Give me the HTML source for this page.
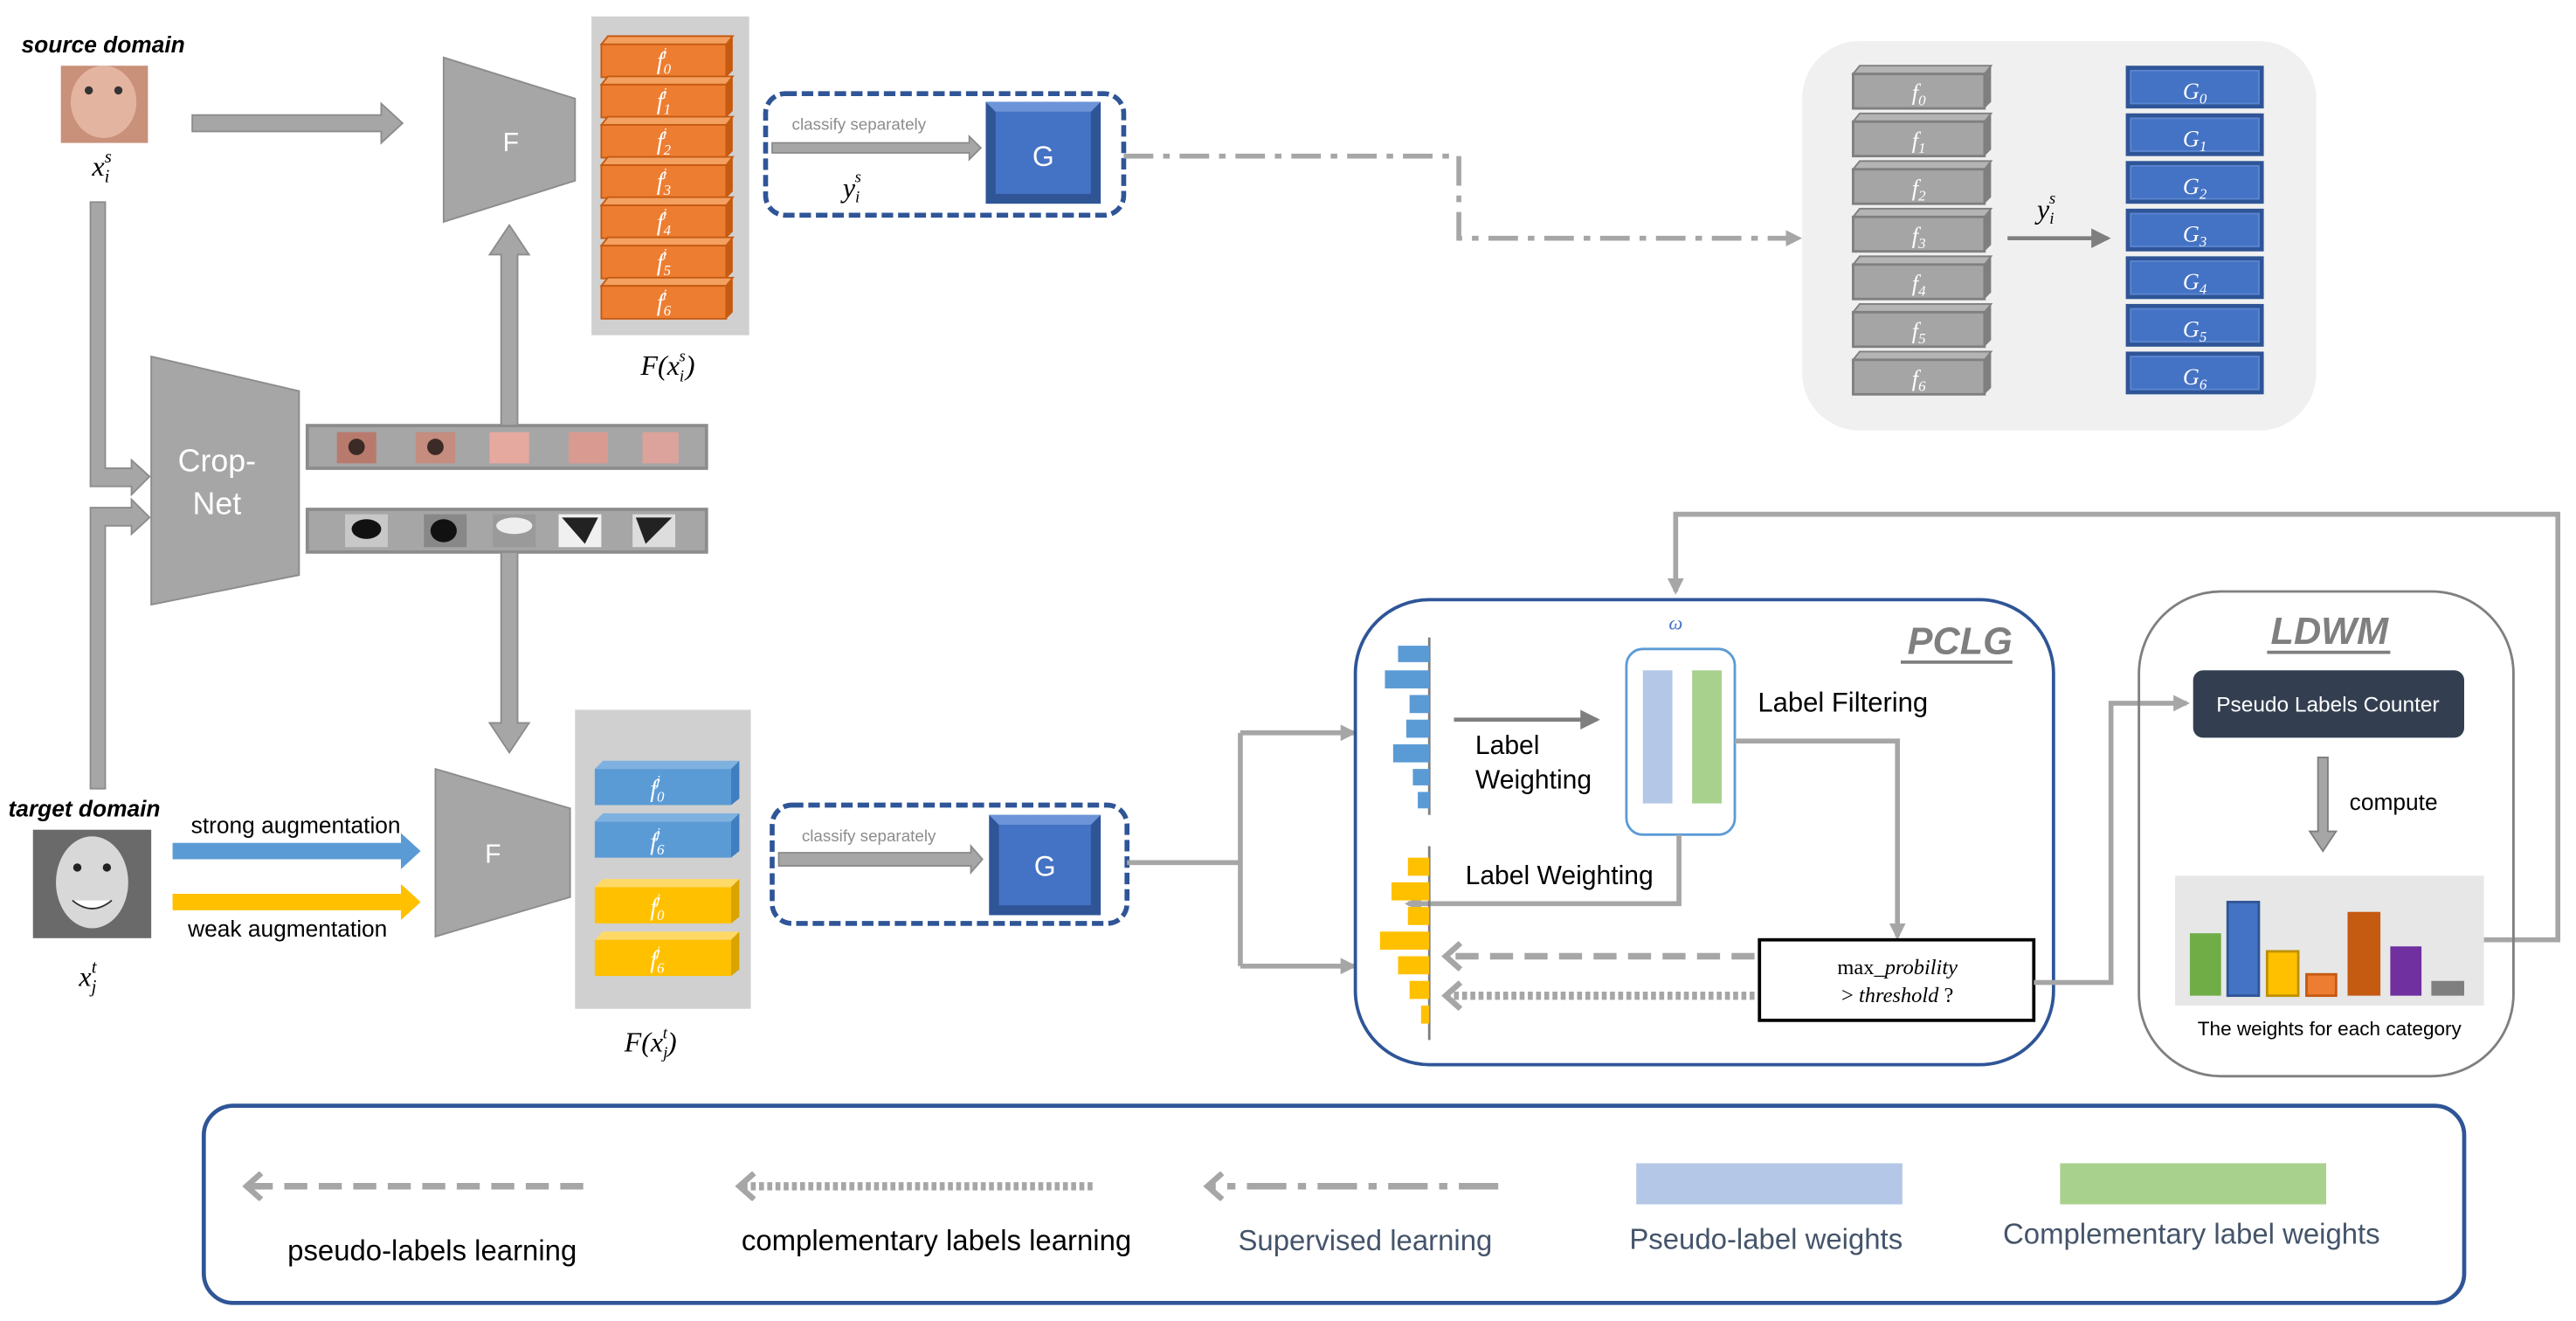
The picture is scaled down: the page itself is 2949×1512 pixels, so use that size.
<!DOCTYPE html>
<html><head><meta charset="utf-8"><style>html,body{margin:0;padding:0;background:#fff}svg{display:block}</style></head><body>
<svg xmlns="http://www.w3.org/2000/svg" width="2949" height="1512" viewBox="0 0 1568 804" font-family="Liberation Sans, sans-serif">
<defs>
<marker id="ah" markerWidth="10" markerHeight="10" refX="8" refY="5" orient="auto" markerUnits="userSpaceOnUse"><path d="M0,0 L10,5 L0,10 z" fill="#a6a6a6"/></marker>
<marker id="ahd" markerWidth="12" markerHeight="12" refX="10" refY="6" orient="auto" markerUnits="userSpaceOnUse"><path d="M0,0 L12,6 L0,12 z" fill="#7f7f7f"/></marker>
<marker id="chev" markerWidth="14" markerHeight="18" refX="11" refY="9" orient="auto" markerUnits="userSpaceOnUse"><path d="M2,1 L11,9 L2,17" fill="none" stroke="#a6a6a6" stroke-width="3.5"/></marker>
</defs>

<!-- source -->
<text x="13" y="32" font-size="14" font-weight="bold" font-style="italic">source domain</text>
<rect x="37" y="40" width="53" height="47" fill="#c9907a"/>
<ellipse cx="63" cy="62" rx="20" ry="22" fill="#e3b4a0"/>
<circle cx="54" cy="55" r="2.5" fill="#333"/><circle cx="72" cy="55" r="2.5" fill="#333"/>
<text x="56" y="107" font-size="17" font-style="italic" font-family="Liberation Serif, serif">x<tspan font-size="11" dy="4">i</tspan><tspan font-size="11" dx="-3" dy="-12">s</tspan></text>
<path d="M117,70 H232 V63 L245,75 L232,87 V80 H117 Z" fill="#a6a6a6" stroke="#8c8c8c"/>

<!-- F top -->
<polygon points="270,35 350,60 350,110 270,135" fill="#a6a6a6" stroke="#8c8c8c"/>
<text x="306" y="92" font-size="16" fill="#fff">F</text>
<rect x="360" y="10" width="96" height="194" fill="#d0d0d0"/>
<g font-family="Liberation Serif, serif" font-style="italic" font-size="15" fill="#fff" text-anchor="middle">
<g id="ob">
<polygon points="366,27 370,22 446,22 442,27" fill="#f4a060" stroke="#c55a11" stroke-width="1"/>
<polygon points="442,27 446,22 446,43 442,47" fill="#c55a11"/>
<rect x="366" y="27" width="76" height="20" fill="#ed7d31" stroke="#c55a11"/>
</g>
<use href="#ob" y="24.5"/><use href="#ob" y="49"/><use href="#ob" y="73.5"/><use href="#ob" y="98"/><use href="#ob" y="122.5"/><use href="#ob" y="147"/>
<text x="404" y="42">f<tspan font-size="9" dy="3">0</tspan><tspan font-size="9" dx="-5" dy="-10">i</tspan></text>
<text x="404" y="66.5">f<tspan font-size="9" dy="3">1</tspan><tspan font-size="9" dx="-5" dy="-10">i</tspan></text>
<text x="404" y="91">f<tspan font-size="9" dy="3">2</tspan><tspan font-size="9" dx="-5" dy="-10">i</tspan></text>
<text x="404" y="115.5">f<tspan font-size="9" dy="3">3</tspan><tspan font-size="9" dx="-5" dy="-10">i</tspan></text>
<text x="404" y="140">f<tspan font-size="9" dy="3">4</tspan><tspan font-size="9" dx="-5" dy="-10">i</tspan></text>
<text x="404" y="164.5">f<tspan font-size="9" dy="3">5</tspan><tspan font-size="9" dx="-5" dy="-10">i</tspan></text>
<text x="404" y="189">f<tspan font-size="9" dy="3">6</tspan><tspan font-size="9" dx="-5" dy="-10">i</tspan></text>
</g>
<text x="390" y="228" font-size="17" font-style="italic" font-family="Liberation Serif, serif">F(x<tspan font-size="10" dy="4">i</tspan><tspan font-size="10" dx="-3" dy="-12">s</tspan><tspan dy="8">)</tspan></text>

<!-- dashed G box top -->
<rect x="466" y="57" width="218" height="74" rx="12" fill="none" stroke="#2f5597" stroke-width="3" stroke-dasharray="7,3"/>
<text x="482" y="79" font-size="10" fill="#8c8c8c">classify separately</text>
<path d="M470,87 H590 V83 L597,90 L590,97 V93 H470 Z" fill="#a6a6a6" stroke="#8c8c8c"/>
<text x="513" y="120" font-size="17" font-style="italic" font-family="Liberation Serif, serif">y<tspan font-size="10" dy="3">i</tspan><tspan font-size="10" dx="-3" dy="-12">s</tspan></text>
<rect x="600" y="62" width="70" height="62" fill="#2f5597"/>
<polygon points="600,62 670,62 664,68 606,68" fill="#6d94d8"/>
<rect x="606" y="68" width="58" height="50" fill="#4472c4"/>
<text x="635" y="101" font-size="17" fill="#fff" text-anchor="middle">G</text>
<path d="M684,95 H888 V145 H1095" fill="none" stroke="#a6a6a6" stroke-width="3" stroke-dasharray="18,6,4,6" marker-end="url(#ah)"/>

<!-- right gray box -->
<rect x="1097" y="25" width="313" height="237" rx="35" fill="#f0f0f0"/>
<g font-family="Liberation Serif, serif" font-style="italic" font-size="14" fill="#fff" text-anchor="middle">
<g id="gb">
<polygon points="1128,45 1132,40 1212,40 1208,45" fill="#b4b4b4" stroke="#7f7f7f"/>
<polygon points="1208,45 1212,40 1212,62 1208,66" fill="#7f7f7f"/>
<rect x="1128" y="45" width="80" height="21" fill="#a5a5a5" stroke="#7f7f7f" stroke-width="1.5"/>
<rect x="1294" y="40" width="84" height="26" fill="#2f5597"/>
<rect x="1297" y="43" width="78" height="20" fill="#4472c4" stroke="#5b85d0"/>
</g>
<use href="#gb" y="29"/><use href="#gb" y="58"/><use href="#gb" y="87"/><use href="#gb" y="116"/><use href="#gb" y="145"/><use href="#gb" y="174"/>
<text x="1168" y="61">f<tspan font-size="9" dy="3">0</tspan></text>
<text x="1168" y="90">f<tspan font-size="9" dy="3">1</tspan></text>
<text x="1168" y="119">f<tspan font-size="9" dy="3">2</tspan></text>
<text x="1168" y="148">f<tspan font-size="9" dy="3">3</tspan></text>
<text x="1168" y="177">f<tspan font-size="9" dy="3">4</tspan></text>
<text x="1168" y="206">f<tspan font-size="9" dy="3">5</tspan></text>
<text x="1168" y="235">f<tspan font-size="9" dy="3">6</tspan></text>
<text x="1336" y="60">G<tspan font-size="9" dy="3">0</tspan></text>
<text x="1336" y="89">G<tspan font-size="9" dy="3">1</tspan></text>
<text x="1336" y="118">G<tspan font-size="9" dy="3">2</tspan></text>
<text x="1336" y="147">G<tspan font-size="9" dy="3">3</tspan></text>
<text x="1336" y="176">G<tspan font-size="9" dy="3">4</tspan></text>
<text x="1336" y="205">G<tspan font-size="9" dy="3">5</tspan></text>
<text x="1336" y="234">G<tspan font-size="9" dy="3">6</tspan></text>
</g>
<line x1="1222" y1="145" x2="1283" y2="145" stroke="#7f7f7f" stroke-width="2.5" marker-end="url(#ahd)"/>
<text x="1240" y="133" font-size="17" font-style="italic" font-family="Liberation Serif, serif">y<tspan font-size="10" dy="3">i</tspan><tspan font-size="10" dx="-3" dy="-12">s</tspan></text>

<!-- left vertical paths into Crop-Net -->
<path d="M55,123 H64 V285 H80 V280 L91,290 L80,301 V296 H55 Z" fill="#a6a6a6" stroke="#8c8c8c"/>
<path d="M55,480 H64 V320 H80 V325 L91,315 L80,304 V309 H55 Z" fill="#a6a6a6" stroke="#8c8c8c"/>
<polygon points="92,217 182,238 182,350 92,368" fill="#a6a6a6" stroke="#8c8c8c"/>
<text x="132" y="287" font-size="19" fill="#fff" text-anchor="middle">Crop-</text>
<text x="132" y="313" font-size="19" fill="#fff" text-anchor="middle">Net</text>

<!-- strips -->
<rect x="187" y="259" width="243" height="26" fill="#a6a6a6" stroke="#8c8c8c" stroke-width="2"/>
<rect x="205" y="263" width="24" height="19" fill="#b97a6e"/><circle cx="217" cy="272" r="5" fill="#3b2a25"/>
<rect x="253" y="263" width="24" height="19" fill="#c58c80"/><circle cx="265" cy="272" r="5" fill="#3b2a25"/>
<rect x="298" y="263" width="24" height="19" fill="#e6a9a0"/>
<rect x="346" y="263" width="24" height="19" fill="#d99a92"/>
<rect x="391" y="263" width="22" height="19" fill="#dba39b"/>
<rect x="187" y="310" width="243" height="26" fill="#a6a6a6" stroke="#8c8c8c" stroke-width="2"/>
<rect x="210" y="313" width="26" height="20" fill="#c8c8c8"/><ellipse cx="223" cy="322" rx="9" ry="6" fill="#111"/>
<rect x="258" y="313" width="26" height="20" fill="#888"/><ellipse cx="270" cy="323" rx="8" ry="7" fill="#111"/>
<rect x="300" y="313" width="26" height="20" fill="#9a9a9a"/><ellipse cx="313" cy="320" rx="11" ry="5" fill="#eee"/>
<rect x="340" y="313" width="26" height="20" fill="#f0f0f0"/><polygon points="342,315 364,315 356,331" fill="#222"/>
<rect x="385" y="313" width="26" height="20" fill="#ddd"/><polygon points="387,315 409,315 393,331" fill="#222"/>

<!-- vertical double arrow -->
<path d="M305,259 V155 H298 L310,137 L322,155 H315 V259 Z" fill="#a6a6a6" stroke="#8c8c8c"/>
<path d="M305,336 V440 H298 L310,458 L322,440 H315 V336 Z" fill="#a6a6a6" stroke="#8c8c8c"/>

<!-- target -->
<text x="5" y="497" font-size="14" font-weight="bold" font-style="italic">target domain</text>
<rect x="20" y="505" width="72" height="66" fill="#6a6a6a"/>
<ellipse cx="56" cy="537" rx="22" ry="28" fill="#d8d8d8"/>
<circle cx="47" cy="528" r="2.5" fill="#222"/><circle cx="65" cy="528" r="2.5" fill="#222"/>
<path d="M44,548 Q56,558 68,548" fill="#fff" stroke="#333"/>
<text x="48" y="600" font-size="17" font-style="italic" font-family="Liberation Serif, serif">x<tspan font-size="11" dy="4">j</tspan><tspan font-size="11" dx="-3" dy="-12">t</tspan></text>
<text x="180" y="507" font-size="14" text-anchor="middle">strong augmentation</text>
<path d="M105,513 H244 V507 L256,518 L244,529 V523 H105 Z" fill="#5b9bd5"/>
<path d="M105,544 H244 V538 L256,549 L244,560 V554 H105 Z" fill="#ffc000"/>
<text x="175" y="570" font-size="14" text-anchor="middle">weak augmentation</text>

<polygon points="265,468 347,492 347,546 265,570" fill="#a6a6a6" stroke="#8c8c8c"/>
<text x="300" y="525" font-size="16" fill="#fff" text-anchor="middle">F</text>
<rect x="350" y="432" width="107" height="182" fill="#d0d0d0"/>
<g font-family="Liberation Serif, serif" font-style="italic" font-size="15" fill="#fff" text-anchor="middle">
<g><polygon points="362,468 367,463 450,463 445,468" fill="#7fb1e0"/><polygon points="445,468 450,463 450,486 445,490" fill="#3f7fc0"/><rect x="362" y="468" width="83" height="22" fill="#5b9bd5"/></g>
<g><polygon points="362,500 367,495 450,495 445,500" fill="#7fb1e0"/><polygon points="445,500 450,495 450,518 445,522" fill="#3f7fc0"/><rect x="362" y="500" width="83" height="22" fill="#5b9bd5"/></g>
<g><polygon points="362,540 367,535 450,535 445,540" fill="#ffd966"/><polygon points="445,540 450,535 450,558 445,562" fill="#d9a300"/><rect x="362" y="540" width="83" height="22" fill="#ffc000"/></g>
<g><polygon points="362,572 367,567 450,567 445,572" fill="#ffd966"/><polygon points="445,572 450,567 450,590 445,594" fill="#d9a300"/><rect x="362" y="572" width="83" height="22" fill="#ffc000"/></g>
<text x="400" y="485">f<tspan font-size="9" dy="3">0</tspan><tspan font-size="9" dx="-5" dy="-10">j</tspan></text>
<text x="400" y="517">f<tspan font-size="9" dy="3">6</tspan><tspan font-size="9" dx="-5" dy="-10">j</tspan></text>
<text x="400" y="557">f<tspan font-size="9" dy="3">0</tspan><tspan font-size="9" dx="-5" dy="-10">j</tspan></text>
<text x="400" y="589">f<tspan font-size="9" dy="3">6</tspan><tspan font-size="9" dx="-5" dy="-10">j</tspan></text>
</g>
<text x="380" y="640" font-size="17" font-style="italic" font-family="Liberation Serif, serif">F(x<tspan font-size="10" dy="4">j</tspan><tspan font-size="10" dx="-3" dy="-12">t</tspan><tspan dy="8">)</tspan></text>

<rect x="470" y="490" width="216" height="72" rx="12" fill="none" stroke="#2f5597" stroke-width="3" stroke-dasharray="7,3"/>
<text x="488" y="512" font-size="10" fill="#8c8c8c">classify separately</text>
<path d="M474,519 H591 V515 L598,523 L591,531 V527 H474 Z" fill="#a6a6a6" stroke="#8c8c8c"/>
<rect x="602" y="496" width="68" height="61" fill="#2f5597"/>
<polygon points="602,496 670,496 664,502 608,502" fill="#6d94d8"/>
<rect x="608" y="502" width="56" height="49" fill="#4472c4"/>
<text x="636" y="533" font-size="17" fill="#fff" text-anchor="middle">G</text>
<path d="M686,525 H755" fill="none" stroke="#a6a6a6" stroke-width="3"/>
<path d="M755,446 V588" fill="none" stroke="#a6a6a6" stroke-width="3"/>
<line x1="755" y1="446" x2="824" y2="446" stroke="#a6a6a6" stroke-width="3" marker-end="url(#ah)"/>
<line x1="755" y1="588" x2="824" y2="588" stroke="#a6a6a6" stroke-width="3" marker-end="url(#ah)"/>

<!-- feedback -->
<path d="M1512,572 H1557 V313 H1020 V360" fill="none" stroke="#a6a6a6" stroke-width="3" marker-end="url(#ah)"/>

<!-- PCLG -->
<rect x="825" y="365" width="425" height="283" rx="45" fill="none" stroke="#2f5597" stroke-width="2"/>
<text x="1225" y="398" font-size="23" font-weight="bold" font-style="italic" fill="#7f7f7f" text-anchor="end">PCLG</text>
<line x1="1157" y1="403" x2="1225" y2="403" stroke="#7f7f7f" stroke-width="2"/>
<text x="1020" y="383" font-size="12" font-style="italic" fill="#4472c4" text-anchor="middle" font-family="Liberation Serif, serif">ω</text>
<line x1="870" y1="388" x2="870" y2="496" stroke="#7f7f7f" stroke-width="1.5"/>
<g fill="#5b9bd5">
<rect x="851" y="393" width="19" height="10"/><rect x="843" y="408" width="27" height="11"/><rect x="858" y="423" width="12" height="11"/>
<rect x="856" y="438" width="14" height="11"/><rect x="848" y="453" width="22" height="11"/><rect x="860" y="468" width="10" height="10"/><rect x="863" y="482" width="7" height="10"/>
</g>
<line x1="885" y1="438" x2="972" y2="438" stroke="#7f7f7f" stroke-width="2.5" marker-end="url(#ahd)"/>
<text x="898" y="459" font-size="16">Label</text>
<text x="898" y="480" font-size="16">Weighting</text>
<rect x="990" y="395" width="66" height="113" rx="10" fill="#fff" stroke="#5b9bd5" stroke-width="1.5"/>
<rect x="1000" y="408" width="18" height="81" fill="#b4c7e7"/>
<rect x="1030" y="408" width="18" height="81" fill="#a9d18e"/>
<text x="1070" y="433" font-size="16.5">Label Filtering</text>
<path d="M1056,451 H1155 V570" fill="none" stroke="#a6a6a6" stroke-width="3" marker-end="url(#ah)"/>
<path d="M1022,508 V550 H857" fill="none" stroke="#a6a6a6" stroke-width="3" marker-end="url(#ah)"/>
<text x="892" y="538" font-size="16">Label Weighting</text>
<line x1="870" y1="515" x2="870" y2="633" stroke="#7f7f7f" stroke-width="1.5"/>
<g fill="#ffc000">
<rect x="857" y="522" width="13" height="11"/><rect x="847" y="537" width="23" height="11"/><rect x="857" y="552" width="13" height="11"/>
<rect x="840" y="567" width="30" height="11"/><rect x="851" y="582" width="19" height="11"/><rect x="858" y="597" width="12" height="11"/><rect x="865" y="612" width="5" height="11"/>
</g>
<rect x="1071" y="572" width="167" height="49" fill="#fff" stroke="#000" stroke-width="2"/>
<text x="1155" y="593" font-size="13" text-anchor="middle" font-family="Liberation Serif, serif">max<tspan font-style="italic">_probility</tspan></text>
<text x="1155" y="610" font-size="13" text-anchor="middle" font-family="Liberation Serif, serif">&gt; <tspan font-style="italic">threshold</tspan> ?</text>
<line x1="1068" y1="582" x2="880" y2="582" stroke="#a6a6a6" stroke-width="4" stroke-dasharray="14,7" marker-end="url(#chev)"/>
<line x1="1068" y1="606" x2="880" y2="606" stroke="#a6a6a6" stroke-width="5" stroke-dasharray="3,2" marker-end="url(#chev)"/>
<path d="M1238,598 H1285 V428 H1331" fill="none" stroke="#a6a6a6" stroke-width="3" marker-end="url(#ah)"/>

<!-- LDWM -->
<rect x="1302" y="360" width="228" height="295" rx="50" fill="none" stroke="#7f7f7f" stroke-width="1.5"/>
<text x="1418" y="392" font-size="23" font-weight="bold" font-style="italic" fill="#7f7f7f" text-anchor="middle">LDWM</text>
<line x1="1380" y1="397" x2="1455" y2="397" stroke="#7f7f7f" stroke-width="2"/>
<rect x="1335" y="408" width="165" height="41" rx="6" fill="#333f50"/>
<text x="1417" y="433" font-size="13" fill="#fff" text-anchor="middle">Pseudo Labels Counter</text>
<path d="M1411,461 H1417 V506 H1422 L1414,518 L1406,506 H1411 Z" fill="#a6a6a6" stroke="#7f7f7f"/>
<text x="1457" y="493" font-size="14" text-anchor="middle">compute</text>
<rect x="1324" y="533" width="188" height="79" fill="#e7e7e7"/>
<rect x="1333" y="568" width="19" height="38" fill="#70ad47"/>
<rect x="1356" y="549" width="19" height="57" fill="#4472c4" stroke="#2f5597" stroke-width="1.5"/>
<rect x="1380" y="579" width="19" height="27" fill="#ffc000" stroke="#bf9000" stroke-width="1.5"/>
<rect x="1404" y="593" width="18" height="13" fill="#ed7d31" stroke="#c55a11" stroke-width="1.5"/>
<rect x="1429" y="555" width="20" height="51" fill="#c55a11"/>
<rect x="1455" y="576" width="19" height="30" fill="#7030a0"/>
<rect x="1480" y="597" width="20" height="9" fill="#7f7f7f"/>
<text x="1418" y="630" font-size="12" text-anchor="middle">The weights for each category</text>

<!-- legend -->
<rect x="124" y="673" width="1376" height="120" rx="18" fill="none" stroke="#2f5597" stroke-width="2.5"/>
<line x1="355" y1="722" x2="150" y2="722" stroke="#a6a6a6" stroke-width="4" stroke-dasharray="14,7" marker-end="url(#chev)"/>
<text x="263" y="767" font-size="17.5" text-anchor="middle">pseudo-labels learning</text>
<line x1="665" y1="722" x2="450" y2="722" stroke="#a6a6a6" stroke-width="5" stroke-dasharray="3,2" marker-end="url(#chev)"/>
<text x="570" y="761" font-size="17.5" text-anchor="middle">complementary labels learning</text>
<line x1="912" y1="722" x2="735" y2="722" stroke="#a6a6a6" stroke-width="4" stroke-dasharray="24,7,5,7" marker-end="url(#chev)"/>
<text x="831" y="761" font-size="17.5" fill="#44546a" text-anchor="middle">Supervised learning</text>
<rect x="996" y="708" width="162" height="25" fill="#b4c7e7"/>
<text x="1075" y="760" font-size="17.5" fill="#44546a" text-anchor="middle">Pseudo-label weights</text>
<rect x="1254" y="708" width="162" height="25" fill="#a9d18e"/>
<text x="1334" y="757" font-size="17.5" fill="#44546a" text-anchor="middle">Complementary label weights</text>
</svg>
</body></html>
